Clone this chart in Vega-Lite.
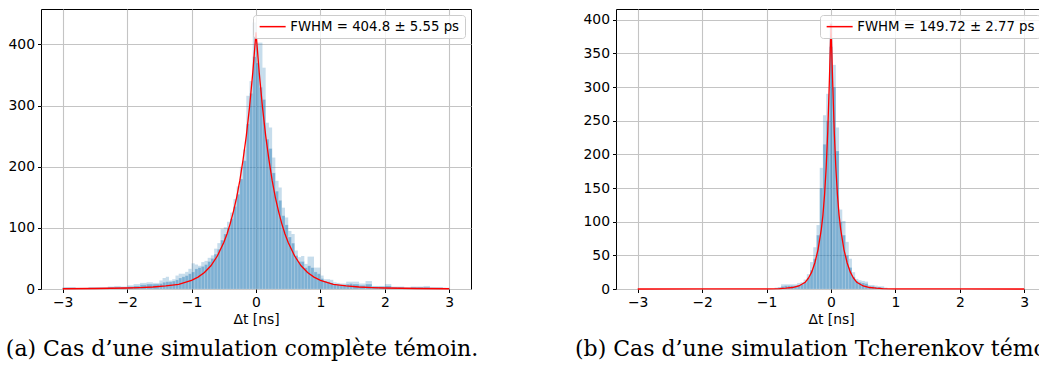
{
  "$schema": "https://vega.github.io/schema/vega-lite/v6.json",
  "background": "white",
  "autosize": {"type": "pad"},
  "padding": {"left": 5, "top": 8, "right": 0, "bottom": 0},
  "bounds": "flush",
  "spacing": 145,
  "resolve": {"scale": {"color": "independent", "x": "independent", "y": "independent"}, "axis": {"x": "independent", "y": "independent"}, "legend": {"color": "independent"}},
  "config": {
    "font": "DejaVu Sans",
    "view": {"stroke": "black", "strokeWidth": 1},
    "axis": {"domain": false, "grid": true, "gridColor": "#c4c4c4", "gridWidth": 1.1, "tickColor": "black", "tickSize": 3.5, "tickWidth": 1, "labelFont": "DejaVu Sans", "labelFontSize": 13.9, "labelColor": "black", "labelPadding": 3, "labelFlush": false, "labelOverlap": false, "titleFont": "DejaVu Sans", "titleFontSize": 13.9, "titleFontWeight": "normal", "titleColor": "black", "titlePadding": 3, "zindex": 1},
    "legend": {"symbolType": "M-2.6,0H2.6", "symbolSize": 100, "symbolOffset": 8, "symbolStrokeWidth": 1.5, "labelFont": "DejaVu Sans", "labelFontSize": 13.3, "labelColor": "black", "labelOffset": 11, "labelLimit": 400, "padding": 5, "fillColor": "rgba(255,255,255,0.8)", "strokeColor": "#cccccc", "cornerRadius": 3},
    "title": {"font": "DejaVu Serif", "fontSize": 22, "fontWeight": "normal", "color": "black", "orient": "bottom", "anchor": "middle"}
  },
  "datasets": {
    "histA": [
      {"x0": -3.0, "x1": -2.9, "hi": 3, "lo": 2},
      {"x0": -2.9, "x1": -2.8, "hi": 3, "lo": 2},
      {"x0": -2.8, "x1": -2.7, "hi": 2, "lo": 1},
      {"x0": -2.7, "x1": -2.6, "hi": 2, "lo": 1},
      {"x0": -2.6, "x1": -2.5, "hi": 3, "lo": 2},
      {"x0": -2.5, "x1": -2.4, "hi": 3, "lo": 2},
      {"x0": -2.4, "x1": -2.3, "hi": 3, "lo": 2},
      {"x0": -2.3, "x1": -2.2, "hi": 4, "lo": 3},
      {"x0": -2.2, "x1": -2.1, "hi": 5, "lo": 3},
      {"x0": -2.1, "x1": -2.0, "hi": 4, "lo": 3},
      {"x0": -2.0, "x1": -1.9, "hi": 6, "lo": 4},
      {"x0": -1.9, "x1": -1.8, "hi": 8, "lo": 5},
      {"x0": -1.8, "x1": -1.7, "hi": 10, "lo": 7},
      {"x0": -1.7, "x1": -1.6, "hi": 11, "lo": 8},
      {"x0": -1.6, "x1": -1.5, "hi": 10, "lo": 8},
      {"x0": -1.5, "x1": -1.45, "hi": 14, "lo": 9},
      {"x0": -1.45, "x1": -1.4, "hi": 18, "lo": 11},
      {"x0": -1.4, "x1": -1.35, "hi": 20, "lo": 12},
      {"x0": -1.35, "x1": -1.3, "hi": 14, "lo": 12},
      {"x0": -1.3, "x1": -1.25, "hi": 16, "lo": 13},
      {"x0": -1.25, "x1": -1.2, "hi": 22, "lo": 15},
      {"x0": -1.2, "x1": -1.15, "hi": 25, "lo": 18},
      {"x0": -1.15, "x1": -1.1, "hi": 25, "lo": 20},
      {"x0": -1.1, "x1": -1.05, "hi": 28, "lo": 22},
      {"x0": -1.05, "x1": -1.0, "hi": 33, "lo": 25},
      {"x0": -1.0, "x1": -0.95, "hi": 42, "lo": 28},
      {"x0": -0.95, "x1": -0.9, "hi": 40, "lo": 33},
      {"x0": -0.9, "x1": -0.85, "hi": 38, "lo": 35},
      {"x0": -0.85, "x1": -0.8, "hi": 44, "lo": 37},
      {"x0": -0.8, "x1": -0.75, "hi": 46, "lo": 40},
      {"x0": -0.75, "x1": -0.7, "hi": 51, "lo": 45},
      {"x0": -0.7, "x1": -0.65, "hi": 55, "lo": 50},
      {"x0": -0.65, "x1": -0.6, "hi": 66, "lo": 57},
      {"x0": -0.6, "x1": -0.55, "hi": 75, "lo": 65},
      {"x0": -0.55, "x1": -0.5, "hi": 98, "lo": 80},
      {"x0": -0.5, "x1": -0.45, "hi": 101, "lo": 90},
      {"x0": -0.45, "x1": -0.4, "hi": 110, "lo": 100},
      {"x0": -0.4, "x1": -0.35, "hi": 125, "lo": 115},
      {"x0": -0.35, "x1": -0.3, "hi": 147, "lo": 135},
      {"x0": -0.3, "x1": -0.25, "hi": 168, "lo": 155},
      {"x0": -0.25, "x1": -0.2, "hi": 200, "lo": 180},
      {"x0": -0.2, "x1": -0.15, "hi": 228, "lo": 210},
      {"x0": -0.15, "x1": -0.1, "hi": 316, "lo": 270},
      {"x0": -0.1, "x1": -0.05, "hi": 340, "lo": 320},
      {"x0": -0.05, "x1": 0.0, "hi": 436, "lo": 380},
      {"x0": 0.0, "x1": 0.05, "hi": 403, "lo": 370},
      {"x0": 0.05, "x1": 0.1, "hi": 403, "lo": 330},
      {"x0": 0.1, "x1": 0.15, "hi": 362, "lo": 310},
      {"x0": 0.15, "x1": 0.2, "hi": 272, "lo": 245},
      {"x0": 0.2, "x1": 0.25, "hi": 264, "lo": 230},
      {"x0": 0.25, "x1": 0.3, "hi": 215, "lo": 190},
      {"x0": 0.3, "x1": 0.35, "hi": 177, "lo": 160},
      {"x0": 0.35, "x1": 0.4, "hi": 166, "lo": 145},
      {"x0": 0.4, "x1": 0.45, "hi": 133, "lo": 120},
      {"x0": 0.45, "x1": 0.5, "hi": 117, "lo": 105},
      {"x0": 0.5, "x1": 0.55, "hi": 95, "lo": 85},
      {"x0": 0.55, "x1": 0.6, "hi": 90, "lo": 75},
      {"x0": 0.6, "x1": 0.65, "hi": 63, "lo": 55},
      {"x0": 0.65, "x1": 0.7, "hi": 52, "lo": 45},
      {"x0": 0.7, "x1": 0.75, "hi": 54, "lo": 45},
      {"x0": 0.75, "x1": 0.8, "hi": 41, "lo": 35},
      {"x0": 0.8, "x1": 0.85, "hi": 53, "lo": 38},
      {"x0": 0.85, "x1": 0.9, "hi": 53, "lo": 35},
      {"x0": 0.9, "x1": 0.95, "hi": 35, "lo": 28},
      {"x0": 0.95, "x1": 1.0, "hi": 35, "lo": 25},
      {"x0": 1.0, "x1": 1.05, "hi": 22, "lo": 17},
      {"x0": 1.05, "x1": 1.1, "hi": 16, "lo": 13},
      {"x0": 1.1, "x1": 1.15, "hi": 16, "lo": 12},
      {"x0": 1.15, "x1": 1.2, "hi": 15, "lo": 10},
      {"x0": 1.2, "x1": 1.25, "hi": 11, "lo": 8},
      {"x0": 1.25, "x1": 1.3, "hi": 10, "lo": 7},
      {"x0": 1.3, "x1": 1.35, "hi": 9, "lo": 6},
      {"x0": 1.35, "x1": 1.4, "hi": 9, "lo": 7},
      {"x0": 1.4, "x1": 1.45, "hi": 12, "lo": 8},
      {"x0": 1.45, "x1": 1.5, "hi": 12, "lo": 9},
      {"x0": 1.5, "x1": 1.6, "hi": 12, "lo": 8},
      {"x0": 1.6, "x1": 1.7, "hi": 9, "lo": 6},
      {"x0": 1.7, "x1": 1.8, "hi": 13, "lo": 8},
      {"x0": 1.8, "x1": 1.9, "hi": 5, "lo": 4},
      {"x0": 1.9, "x1": 2.0, "hi": 5, "lo": 4},
      {"x0": 2.0, "x1": 2.1, "hi": 8, "lo": 5},
      {"x0": 2.1, "x1": 2.2, "hi": 4, "lo": 3},
      {"x0": 2.2, "x1": 2.3, "hi": 4, "lo": 3},
      {"x0": 2.3, "x1": 2.4, "hi": 3, "lo": 2},
      {"x0": 2.4, "x1": 2.5, "hi": 4, "lo": 3},
      {"x0": 2.5, "x1": 2.6, "hi": 4, "lo": 3},
      {"x0": 2.6, "x1": 2.7, "hi": 5, "lo": 3},
      {"x0": 2.7, "x1": 2.8, "hi": 3, "lo": 2},
      {"x0": 2.8, "x1": 2.9, "hi": 3, "lo": 2},
      {"x0": 2.9, "x1": 3.0, "hi": 2, "lo": 1}
    ],
    "curveA": [
      {"x": -3.0, "y": 0.4}, {"x": -2.5, "y": 0.8}, {"x": -2.0, "y": 1.6}, {"x": -1.8, "y": 2.3},
      {"x": -1.6, "y": 3.3}, {"x": -1.4, "y": 5}, {"x": -1.2, "y": 7.5}, {"x": -1.0, "y": 14},
      {"x": -0.9, "y": 19.5}, {"x": -0.8, "y": 27}, {"x": -0.7, "y": 38}, {"x": -0.6, "y": 54},
      {"x": -0.5, "y": 76}, {"x": -0.45, "y": 90}, {"x": -0.4, "y": 107}, {"x": -0.35, "y": 127},
      {"x": -0.3, "y": 150}, {"x": -0.25, "y": 178}, {"x": -0.2, "y": 212}, {"x": -0.15, "y": 251},
      {"x": -0.1, "y": 298}, {"x": -0.05, "y": 354}, {"x": 0.0, "y": 420},
      {"x": 0.05, "y": 354}, {"x": 0.1, "y": 298}, {"x": 0.15, "y": 251}, {"x": 0.2, "y": 212},
      {"x": 0.25, "y": 178}, {"x": 0.3, "y": 150}, {"x": 0.35, "y": 127}, {"x": 0.4, "y": 107},
      {"x": 0.45, "y": 90}, {"x": 0.5, "y": 76}, {"x": 0.6, "y": 54}, {"x": 0.7, "y": 38},
      {"x": 0.8, "y": 27}, {"x": 0.9, "y": 19.5}, {"x": 1.0, "y": 14}, {"x": 1.2, "y": 7.5},
      {"x": 1.4, "y": 5}, {"x": 1.6, "y": 3.3}, {"x": 1.8, "y": 2.3}, {"x": 2.0, "y": 1.6},
      {"x": 2.5, "y": 0.8}, {"x": 3.0, "y": 0.4}
    ],
    "histB": [
      {"x0": -0.875, "x1": -0.825, "hi": 2, "lo": 1},
      {"x0": -0.825, "x1": -0.775, "hi": 3, "lo": 2},
      {"x0": -0.775, "x1": -0.725, "hi": 7, "lo": 4},
      {"x0": -0.725, "x1": -0.675, "hi": 7, "lo": 5},
      {"x0": -0.675, "x1": -0.625, "hi": 7, "lo": 5},
      {"x0": -0.625, "x1": -0.575, "hi": 7, "lo": 5},
      {"x0": -0.575, "x1": -0.525, "hi": 7, "lo": 5},
      {"x0": -0.525, "x1": -0.475, "hi": 9, "lo": 6},
      {"x0": -0.475, "x1": -0.425, "hi": 10, "lo": 7},
      {"x0": -0.425, "x1": -0.375, "hi": 14, "lo": 10},
      {"x0": -0.375, "x1": -0.325, "hi": 22, "lo": 17},
      {"x0": -0.325, "x1": -0.275, "hi": 40, "lo": 28},
      {"x0": -0.275, "x1": -0.225, "hi": 62, "lo": 45},
      {"x0": -0.225, "x1": -0.175, "hi": 95, "lo": 80},
      {"x0": -0.175, "x1": -0.125, "hi": 180, "lo": 150},
      {"x0": -0.125, "x1": -0.075, "hi": 258, "lo": 215},
      {"x0": -0.075, "x1": -0.025, "hi": 290, "lo": 250},
      {"x0": -0.025, "x1": 0.025, "hi": 396, "lo": 360},
      {"x0": 0.025, "x1": 0.075, "hi": 333, "lo": 300},
      {"x0": 0.075, "x1": 0.125, "hi": 240, "lo": 205},
      {"x0": 0.125, "x1": 0.175, "hi": 118, "lo": 100},
      {"x0": 0.175, "x1": 0.225, "hi": 101, "lo": 80},
      {"x0": 0.225, "x1": 0.275, "hi": 70, "lo": 50},
      {"x0": 0.275, "x1": 0.325, "hi": 45, "lo": 32},
      {"x0": 0.325, "x1": 0.375, "hi": 25, "lo": 18},
      {"x0": 0.375, "x1": 0.425, "hi": 15, "lo": 12},
      {"x0": 0.425, "x1": 0.475, "hi": 13, "lo": 10},
      {"x0": 0.475, "x1": 0.525, "hi": 12, "lo": 9},
      {"x0": 0.525, "x1": 0.575, "hi": 11, "lo": 8},
      {"x0": 0.575, "x1": 0.625, "hi": 6, "lo": 4},
      {"x0": 0.625, "x1": 0.675, "hi": 6, "lo": 4},
      {"x0": 0.675, "x1": 0.725, "hi": 5, "lo": 3},
      {"x0": 0.725, "x1": 0.775, "hi": 4, "lo": 3},
      {"x0": 0.775, "x1": 0.825, "hi": 4, "lo": 2},
      {"x0": 0.825, "x1": 0.875, "hi": 2, "lo": 1}
    ],
    "curveB": [
      {"x": -3.0, "y": 0.02}, {"x": -2.0, "y": 0.05}, {"x": -1.5, "y": 0.1}, {"x": -1.0, "y": 0.3},
      {"x": -0.8, "y": 0.7}, {"x": -0.7, "y": 1.2}, {"x": -0.6, "y": 2.2}, {"x": -0.5, "y": 4.5},
      {"x": -0.4, "y": 10}, {"x": -0.35, "y": 16}, {"x": -0.3, "y": 25}, {"x": -0.25, "y": 39},
      {"x": -0.2, "y": 59}, {"x": -0.15, "y": 89}, {"x": -0.125, "y": 110}, {"x": -0.1, "y": 140},
      {"x": -0.075, "y": 180}, {"x": -0.05, "y": 235}, {"x": -0.025, "y": 310}, {"x": 0.0, "y": 394},
      {"x": 0.025, "y": 310}, {"x": 0.05, "y": 235}, {"x": 0.075, "y": 180}, {"x": 0.1, "y": 140},
      {"x": 0.125, "y": 110}, {"x": 0.15, "y": 89}, {"x": 0.2, "y": 59}, {"x": 0.25, "y": 39},
      {"x": 0.3, "y": 25}, {"x": 0.35, "y": 16}, {"x": 0.4, "y": 10}, {"x": 0.5, "y": 4.5},
      {"x": 0.6, "y": 2.2}, {"x": 0.7, "y": 1.2}, {"x": 0.8, "y": 0.7}, {"x": 1.0, "y": 0.3},
      {"x": 1.5, "y": 0.1}, {"x": 2.0, "y": 0.05}, {"x": 3.0, "y": 0.02}
    ]
  },
  "hconcat": [
    {
      "width": 430,
      "height": 280,
      "title": {"text": "(a) Cas d’une simulation complète témoin.", "dx": -14, "offset": 13},
      "layer": [
        {
          "data": {"name": "histA"},
          "mark": {"type": "rect", "color": "#1f77b4", "opacity": 0.25},
          "encoding": {
            "x": {"field": "x0", "type": "quantitative", "scale": {"domain": [-3.337, 3.337], "nice": false, "zero": false}, "axis": {"values": [-3, -2, -1, 0, 1, 2, 3], "format": "d", "title": "Δt [ns]"}},
            "x2": {"field": "x1"},
            "y": {"field": "hi", "type": "quantitative", "scale": {"domain": [0, 458], "nice": false}, "axis": {"tickCount": 5, "title": null}},
            "y2": {"datum": 0}
          }
        },
        {
          "data": {"name": "histA"},
          "mark": {"type": "rect", "color": "#1f77b4", "fillOpacity": 0.44, "stroke": "white", "strokeWidth": 0.5, "strokeOpacity": 0.3},
          "encoding": {
            "x": {"field": "x0", "type": "quantitative"},
            "x2": {"field": "x1"},
            "y": {"field": "lo", "type": "quantitative"},
            "y2": {"datum": 0}
          }
        },
        {
          "data": {"name": "curveA"},
          "mark": {"type": "line", "strokeWidth": 1.3},
          "encoding": {
            "x": {"field": "x", "type": "quantitative"},
            "y": {"field": "y", "type": "quantitative"},
            "color": {"datum": "FWHM = 404.8 ± 5.55 ps", "type": "nominal", "scale": {"range": ["#ff0000"]}, "legend": {"title": null, "orient": "top-right", "offset": 6}}
          }
        }
      ]
    },
    {
      "width": 430,
      "height": 280,
      "title": {"text": "(b) Cas d’une simulation Tcherenkov témoin.", "dx": -6, "offset": 13},
      "layer": [
        {
          "data": {"name": "histB"},
          "mark": {"type": "rect", "color": "#1f77b4", "opacity": 0.25},
          "encoding": {
            "x": {"field": "x0", "type": "quantitative", "scale": {"domain": [-3.337, 3.337], "nice": false, "zero": false}, "axis": {"values": [-3, -2, -1, 0, 1, 2, 3], "format": "d", "title": "Δt [ns]"}},
            "x2": {"field": "x1"},
            "y": {"field": "hi", "type": "quantitative", "scale": {"domain": [0, 416], "nice": false}, "axis": {"tickCount": 9, "title": null}},
            "y2": {"datum": 0}
          }
        },
        {
          "data": {"name": "histB"},
          "mark": {"type": "rect", "color": "#1f77b4", "fillOpacity": 0.44, "stroke": "white", "strokeWidth": 0.5, "strokeOpacity": 0.3},
          "encoding": {
            "x": {"field": "x0", "type": "quantitative"},
            "x2": {"field": "x1"},
            "y": {"field": "lo", "type": "quantitative"},
            "y2": {"datum": 0}
          }
        },
        {
          "data": {"name": "curveB"},
          "mark": {"type": "line", "strokeWidth": 1.3},
          "encoding": {
            "x": {"field": "x", "type": "quantitative"},
            "y": {"field": "y", "type": "quantitative"},
            "color": {"datum": "FWHM = 149.72 ± 2.77 ps", "type": "nominal", "scale": {"range": ["#ff0000"]}, "legend": {"title": null, "orient": "top-right", "offset": 6}}
          }
        }
      ]
    }
  ]
}
